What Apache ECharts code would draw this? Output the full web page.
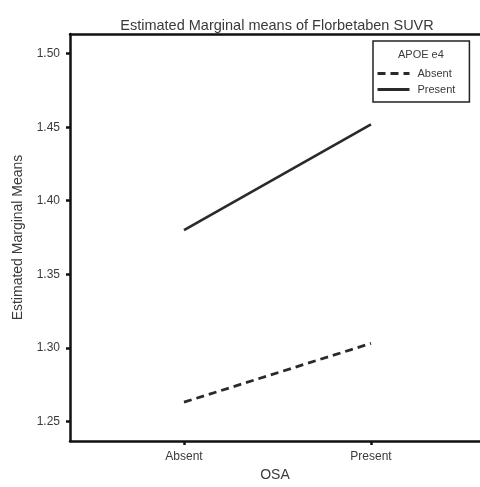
<!DOCTYPE html>
<html>
<head>
<meta charset="utf-8">
<script src="https://cdn.jsdelivr.net/npm/echarts@6/dist/echarts.min.js"></script>
<style>
  html, body { margin: 0; padding: 0; background: #fff; }
  #chart { width: 480px; height: 487px; }
</style>
</head>
<body>
<div id="chart"></div>
<script>
// OSA groups on the x axis
const osaGroups = ['Absent', 'Present']
// estimated marginal means per APOE e4 group
const apoeAbsent = [1.263, 1.303]
const apoePresent = [1.380, 1.452]
// y tick labels
const yTicks = [1.25, 1.30, 1.35, 1.40, 1.45, 1.50]

const font = 'Liberation Sans, Arial, sans-serif'
const textColor = '#3a3a3a'

const chart = echarts.init(document.getElementById('chart'))

const toPoints = (vals) => vals.map((v, i) => [i, v])

chart.setOption({
  animation: false,
  title: {
    text: 'Estimated Marginal means of Florbetaben SUVR',
    left: 272,
    top: 13,
    textAlign: 'center',
    textStyle: {
      fontFamily: font,
      fontSize: 14.5,
      fontWeight: 'normal',
      color: textColor
    }
  },
  grid: {
    left: 70,
    top: 34,
    right: 0,
    bottom: 40
  },
  legend: {
    orient: 'vertical',
    left: 373,
    top: 41,
    padding: [27, 14, 7, 3],
    itemGap: 5,
    itemWidth: 32,
    itemHeight: 12,
    borderColor: '#222',
    borderWidth: 1.5,
    itemStyle: { opacity: 0 },
    lineStyle: { width: 3 },
    textStyle: {
      fontFamily: font,
      fontSize: 11,
      color: textColor,
      padding: [0, 0, 0, 3]
    },
    data: ['Absent', 'Present']
  },
  graphic: [{
    type: 'text',
    left: 398,
    top: 49,
    style: {
      text: 'APOE e4',
      fontFamily: font,
      fontSize: 11,
      fill: textColor
    }
  }],
  xAxis: [{
    type: 'value',
    min: -0.6096,
    max: 1.583,
    name: 'OSA',
    nameLocation: 'middle',
    nameGap: 27,
    nameTextStyle: { fontFamily: font, fontSize: 14, color: textColor },
    axisLine: { onZero: false, lineStyle: { color: '#111', width: 2.5 } },
    axisTick: {
      customValues: [0, 1],
      length: 4,
      lineStyle: { color: '#111', width: 2.5 }
    },
    axisLabel: {
      customValues: [0, 1],
      margin: 10,
      fontFamily: font,
      fontSize: 12,
      color: textColor,
      formatter: (v) => osaGroups[Math.round(v)]
    },
    splitLine: { show: false }
  }, {
    type: 'value',
    position: 'top',
    min: -0.6096,
    max: 1.583,
    axisLine: { onZero: false, lineStyle: { color: '#111', width: 2.5 } },
    axisTick: { show: false },
    axisLabel: { show: false },
    splitLine: { show: false }
  }],
  yAxis: {
    type: 'value',
    min: 1.2366,
    max: 1.5134,
    name: 'Estimated Marginal Means',
    nameLocation: 'middle',
    nameGap: 45,
    nameTextStyle: { fontFamily: font, fontSize: 14, color: textColor },
    axisLine: { show: true, onZero: false, lineStyle: { color: '#111', width: 2.5 } },
    axisTick: {
      show: true,
      customValues: yTicks,
      length: 4,
      lineStyle: { color: '#111', width: 2.5 }
    },
    axisLabel: {
      customValues: yTicks,
      margin: 10,
      fontFamily: font,
      fontSize: 12,
      color: textColor,
      formatter: (v) => v.toFixed(2)
    },
    splitLine: { show: false }
  },
  series: [
    {
      name: 'Absent',
      type: 'line',
      symbol: 'none',
      data: toPoints(apoeAbsent),
      lineStyle: { color: '#2a2a2a', width: 2.8, type: [8, 5] },
      itemStyle: { color: '#2a2a2a' }
    },
    {
      name: 'Present',
      type: 'line',
      symbol: 'none',
      data: toPoints(apoePresent),
      lineStyle: { color: '#2a2a2a', width: 2.6 },
      itemStyle: { color: '#2a2a2a' }
    }
  ]
})
</script>
</body>
</html>
